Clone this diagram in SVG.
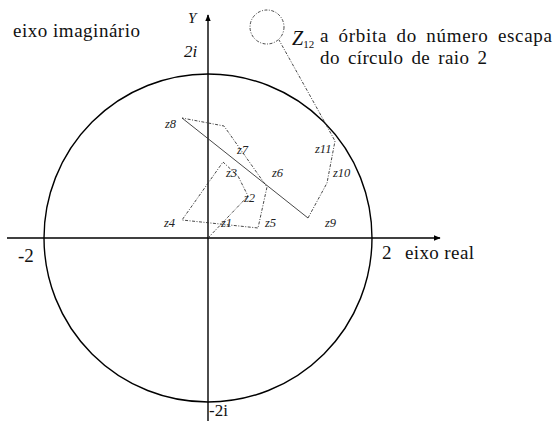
<svg xmlns="http://www.w3.org/2000/svg" width="553" height="421" viewBox="0 0 553 421">
<style>
.ax{stroke:#000;stroke-width:1.4;fill:none}
.orb{stroke:#333;stroke-width:0.9;fill:none;stroke-dasharray:3 1.5 1 1.5}
.sol{stroke:#333;stroke-width:0.9;fill:none}
.t{fill:#111}
.lab{font-style:italic;font-size:12.5px;fill:#222}
</style>
<defs>
<marker id="ar" viewBox="0 0 10 10" refX="9" refY="5" markerWidth="7" markerHeight="7" orient="auto" markerUnits="userSpaceOnUse">
<path d="M0,1 L10,5 L0,9 Z" fill="#000"/>
</marker>
</defs>
<rect width="553" height="421" fill="#fff"/>
<g id="circle"><circle cx="208" cy="238" r="164" class="ax" stroke-width="1.6"/></g>
<g id="axes">
<line x1="7" y1="238" x2="440" y2="238" class="ax" marker-end="url(#ar)"/>
<line x1="208" y1="421" x2="208" y2="15" class="ax" marker-end="url(#ar)"/>
</g>
<g id="connectors">
<polyline class="orb" points="208,238 248,196 238,176 223,162 182,220 258,228 267,187 224,126 182,118"/>
<line class="sol" x1="182" y1="118" x2="308" y2="218"/>
<polyline class="orb" points="308,218 327,183 335,141 318,110 279,40"/>
</g>
<g id="z12"><circle cx="267" cy="27" r="17" class="orb"/></g>
<g id="labels" font-family="'Liberation Serif', 'Times New Roman', serif">
<text class="lab" x="221" y="227">z1</text>
<text class="lab" x="244" y="202">z2</text>
<text class="lab" x="226" y="177">z3</text>
<text class="lab" x="164" y="227">z4</text>
<text class="lab" x="265" y="227">z5</text>
<text class="lab" x="272" y="177">z6</text>
<text class="lab" x="237" y="154">z7</text>
<text class="lab" x="165" y="128">z8</text>
<text class="lab" x="325" y="227">z9</text>
<text class="lab" x="333" y="177">z10</text>
<text class="lab" x="315" y="153">z11</text>
</g>
<g id="texts" font-family="'Liberation Serif', 'Times New Roman', serif">
<text class="t" x="13" y="37" font-size="19" textLength="127" lengthAdjust="spacing">eixo imaginário</text>
<text class="t" x="188" y="23" font-size="15" font-style="italic">Y</text>
<text class="t" x="184" y="57" font-size="17" font-style="italic">2i</text>
<text class="t" x="18" y="262" font-size="19">-2</text>
<text class="t" x="382" y="259" font-size="19">2</text>
<text class="t" x="405" y="259" font-size="19" textLength="69" lengthAdjust="spacing">eixo real</text>
<text class="t" x="209" y="416" font-size="17">-2i</text>
<text class="t" x="292" y="45" font-size="20" font-style="italic">Z<tspan font-size="11" font-style="normal" dy="3">12</tspan></text>
<text class="t" x="320" y="42" font-size="19" textLength="232" lengthAdjust="spacing" word-spacing="4">a órbita do número escapa</text>
<text class="t" x="320" y="64" font-size="19" textLength="167" lengthAdjust="spacing" word-spacing="3">do círculo de raio 2</text>
</g>
</svg>
